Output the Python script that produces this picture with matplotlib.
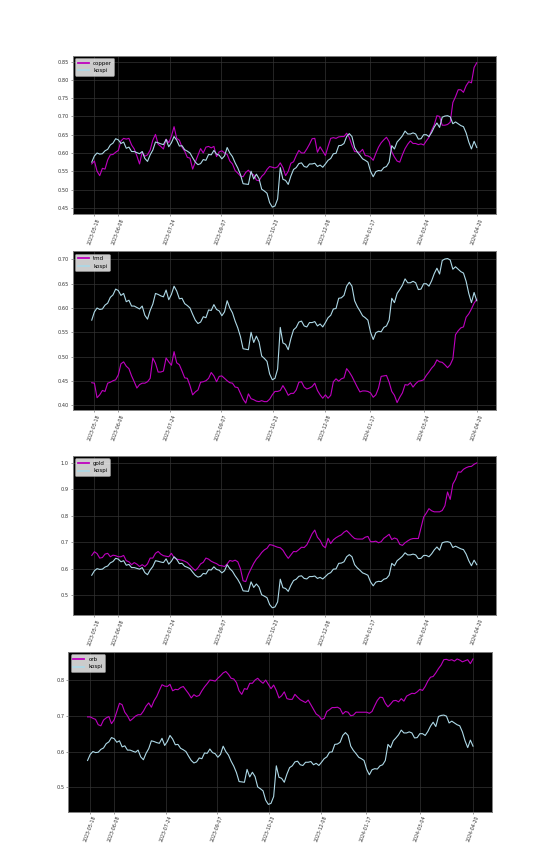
import matplotlib
matplotlib.use('Agg')
import matplotlib.pyplot as plt
import matplotlib.dates as mdates
import matplotlib.ticker as mticker
import pandas as pd

# ---------------- data ----------------
start_date = '2023-05-16'
end_date = '2024-04-20'
n_points = 146

tick_dates = ['2023-05-18', '2023-06-08', '2023-07-24', '2023-09-07', '2023-10-23',
              '2023-12-08', '2024-01-17', '2024-03-04', '2024-04-20']

kospi = [0.575, 0.592, 0.600, 0.597, 0.598, 0.606, 0.610, 0.622, 0.627, 0.639,
         0.636, 0.626, 0.630, 0.613, 0.616, 0.604, 0.604, 0.601, 0.598, 0.604,
         0.585, 0.577, 0.595, 0.608, 0.630, 0.628, 0.625, 0.623, 0.637, 0.617,
         0.628, 0.645, 0.635, 0.619, 0.620, 0.609, 0.605, 0.600, 0.587, 0.575,
         0.568, 0.571, 0.582, 0.580, 0.596, 0.595, 0.607, 0.597, 0.594, 0.584,
         0.592, 0.615, 0.600, 0.590, 0.573, 0.559, 0.541, 0.516, 0.515, 0.514,
         0.550, 0.529, 0.542, 0.530, 0.501, 0.496, 0.490, 0.464, 0.452, 0.455,
         0.474, 0.560, 0.528, 0.525, 0.514, 0.537, 0.555, 0.560, 0.571, 0.573,
         0.563, 0.561, 0.570, 0.570, 0.572, 0.563, 0.567, 0.561, 0.570, 0.580,
         0.585, 0.598, 0.599, 0.620, 0.621, 0.626, 0.645, 0.653, 0.645, 0.615,
         0.603, 0.594, 0.584, 0.580, 0.575, 0.550, 0.535, 0.549, 0.552, 0.551,
         0.560, 0.563, 0.575, 0.620, 0.611, 0.630, 0.638, 0.647, 0.660, 0.652,
         0.652, 0.655, 0.652, 0.638, 0.639, 0.650, 0.650, 0.645, 0.656, 0.671,
         0.682, 0.670, 0.698, 0.701, 0.702, 0.699, 0.680, 0.685, 0.680, 0.675,
         0.672, 0.655, 0.630, 0.611, 0.632, 0.615]

copper = [0.570, 0.578, 0.550, 0.538, 0.558, 0.556, 0.581, 0.595, 0.596, 0.602,
          0.607, 0.633, 0.640, 0.638, 0.640, 0.622, 0.611, 0.592, 0.570, 0.603,
          0.591, 0.595, 0.608, 0.635, 0.651, 0.624, 0.618, 0.611, 0.638, 0.628,
          0.646, 0.672, 0.640, 0.635, 0.616, 0.605, 0.588, 0.586, 0.556, 0.575,
          0.594, 0.612, 0.600, 0.616, 0.618, 0.614, 0.618, 0.590, 0.603, 0.606,
          0.600, 0.596, 0.578, 0.570, 0.552, 0.545, 0.537, 0.535, 0.547, 0.553,
          0.544, 0.540, 0.526, 0.524, 0.536, 0.543, 0.555, 0.563, 0.561, 0.559,
          0.562, 0.573, 0.560, 0.538, 0.550, 0.572, 0.576, 0.593, 0.607, 0.600,
          0.600, 0.611, 0.624, 0.639, 0.640, 0.602, 0.617, 0.605, 0.593, 0.618,
          0.640, 0.642, 0.640, 0.644, 0.645, 0.645, 0.654, 0.642, 0.621, 0.604,
          0.603, 0.602, 0.610, 0.593, 0.592, 0.588, 0.580, 0.599, 0.616, 0.628,
          0.636, 0.643, 0.631, 0.603, 0.589, 0.578, 0.575, 0.595, 0.612, 0.624,
          0.633, 0.626, 0.626, 0.623, 0.625, 0.622, 0.633, 0.643, 0.662, 0.677,
          0.702, 0.700, 0.676, 0.676, 0.678, 0.684, 0.738, 0.754, 0.773, 0.773,
          0.766, 0.784, 0.795, 0.792, 0.834, 0.847]

tmd = [0.446, 0.445, 0.415, 0.421, 0.430, 0.428, 0.445, 0.447, 0.450, 0.452,
       0.462, 0.485, 0.489, 0.480, 0.475, 0.460, 0.448, 0.435, 0.442, 0.445,
       0.445, 0.448, 0.455, 0.497, 0.486, 0.468, 0.468, 0.470, 0.497, 0.489,
       0.482, 0.510, 0.487, 0.483, 0.470, 0.456, 0.455, 0.440, 0.421, 0.427,
       0.431, 0.447, 0.448, 0.450, 0.455, 0.467, 0.460, 0.448, 0.459, 0.460,
       0.455, 0.450, 0.446, 0.445, 0.437, 0.436, 0.424, 0.412, 0.404, 0.423,
       0.413, 0.411, 0.408, 0.407, 0.409, 0.407, 0.407, 0.412, 0.421, 0.428,
       0.428, 0.430, 0.440, 0.431, 0.420, 0.424, 0.424, 0.431, 0.447, 0.448,
       0.437, 0.433, 0.435, 0.438, 0.445, 0.430, 0.421, 0.414, 0.421, 0.414,
       0.420, 0.448, 0.454, 0.449, 0.454, 0.456, 0.475, 0.468, 0.459, 0.448,
       0.437, 0.427, 0.429, 0.429, 0.428, 0.425, 0.416, 0.421, 0.435, 0.459,
       0.460, 0.461, 0.447, 0.428, 0.420, 0.405, 0.416, 0.425, 0.442, 0.441,
       0.446, 0.437, 0.444, 0.449, 0.450, 0.452, 0.461, 0.468, 0.476, 0.482,
       0.493, 0.489, 0.488, 0.483, 0.477, 0.483, 0.495, 0.545, 0.553, 0.559,
       0.561, 0.581, 0.588, 0.598, 0.610, 0.618]

gold = [0.650, 0.664, 0.657, 0.640, 0.642, 0.655, 0.658, 0.645, 0.651, 0.649,
        0.645, 0.645, 0.650, 0.630, 0.626, 0.615, 0.623, 0.617, 0.608, 0.615,
        0.608, 0.618, 0.640, 0.640, 0.658, 0.665, 0.655, 0.649, 0.647, 0.645,
        0.658, 0.642, 0.636, 0.634, 0.632, 0.628, 0.623, 0.612, 0.602, 0.593,
        0.603, 0.618, 0.624, 0.640, 0.636, 0.628, 0.623, 0.619, 0.612, 0.611,
        0.608, 0.618, 0.631, 0.628, 0.632, 0.626, 0.600, 0.554, 0.551, 0.579,
        0.600, 0.620, 0.636, 0.647, 0.661, 0.671, 0.677, 0.691, 0.689, 0.685,
        0.681, 0.679, 0.670, 0.653, 0.639, 0.652, 0.665, 0.664, 0.672, 0.681,
        0.680, 0.690, 0.710, 0.732, 0.746, 0.719, 0.707, 0.687, 0.679, 0.715,
        0.695, 0.709, 0.717, 0.723, 0.728, 0.738, 0.744, 0.734, 0.723, 0.714,
        0.712, 0.712, 0.712, 0.719, 0.722, 0.702, 0.702, 0.704, 0.698, 0.702,
        0.715, 0.722, 0.730, 0.710, 0.716, 0.712, 0.692, 0.688, 0.698, 0.705,
        0.711, 0.714, 0.714, 0.714, 0.755, 0.795, 0.810, 0.827, 0.819, 0.815,
        0.815, 0.815, 0.820, 0.838, 0.890, 0.862, 0.920, 0.938, 0.966, 0.965,
        0.976, 0.982, 0.986, 0.987, 0.995, 1.000]

orb = [0.697, 0.697, 0.693, 0.690, 0.675, 0.672, 0.688, 0.694, 0.698, 0.678,
       0.689, 0.712, 0.735, 0.731, 0.710, 0.700, 0.686, 0.692, 0.699, 0.703,
       0.703, 0.713, 0.727, 0.736, 0.724, 0.742, 0.754, 0.771, 0.787, 0.783,
       0.782, 0.788, 0.770, 0.774, 0.773, 0.779, 0.782, 0.772, 0.762, 0.750,
       0.759, 0.754, 0.757, 0.770, 0.781, 0.790, 0.800, 0.799, 0.797, 0.805,
       0.812, 0.820, 0.824, 0.816, 0.805, 0.803, 0.793, 0.770, 0.760, 0.776,
       0.774, 0.791, 0.791, 0.800, 0.805, 0.797, 0.791, 0.800, 0.788, 0.776,
       0.786, 0.771, 0.750, 0.756, 0.767, 0.748, 0.746, 0.746, 0.760, 0.752,
       0.745, 0.741, 0.737, 0.744, 0.731, 0.718, 0.705, 0.700, 0.690, 0.693,
       0.712, 0.717, 0.723, 0.723, 0.724, 0.720, 0.705, 0.712, 0.710, 0.700,
       0.702, 0.710, 0.710, 0.710, 0.710, 0.710, 0.707, 0.712, 0.728, 0.743,
       0.752, 0.751, 0.735, 0.725, 0.733, 0.742, 0.743, 0.739, 0.748, 0.741,
       0.755, 0.759, 0.763, 0.762, 0.767, 0.774, 0.771, 0.782, 0.797, 0.808,
       0.810, 0.820, 0.832, 0.842, 0.857, 0.858, 0.855, 0.857, 0.853, 0.859,
       0.856, 0.851, 0.854, 0.857, 0.846, 0.859]

pairs = [('copper', copper), ('tmd', tmd), ('gold', gold), ('orb', orb)]
y_steps = [0.05, 0.05, 0.1, 0.1]

# ---------------- layout ----------------
W, H = 551, 843
# (left, top, right, bottom) in pixels
boxes = [(72.5, 55.5, 496, 214.3),
         (72.5, 251.3, 496, 410.3),
         (72.5, 455.7, 496, 615.0),
         (68.3, 651.7, 492.3, 811.7)]

dates = pd.date_range(start_date, end_date, periods=n_points)
ticks = pd.to_datetime(tick_dates)

fig = plt.figure(figsize=(W / 100, H / 100), dpi=100)
fig.patch.set_facecolor('white')

for (name, vals), (l, t, r, b), step in zip(pairs, boxes, y_steps):
    ax = fig.add_axes([l / W, 1 - b / H, (r - l) / W, (b - t) / H])
    ax.set_facecolor('black')
    ax.plot(dates, vals, color='m', lw=0.8, label=name)
    ax.plot(dates, kospi, color='lightblue', lw=0.8, label='kospi')
    ax.set_xticks(ticks)
    ax.xaxis.set_major_formatter(mdates.DateFormatter('%Y-%m-%d'))
    ax.yaxis.set_major_locator(mticker.MultipleLocator(step))
    ax.tick_params(axis='x', labelsize=3.4, rotation=70, length=1.5, width=0.4,
                   pad=0.8, color='#555555', labelcolor='#333333')
    ax.tick_params(axis='y', labelsize=3.6, length=1.5, width=0.4, pad=1.2,
                   color='#555555', labelcolor='#333333')
    ax.grid(True, color='#333333', lw=0.5)
    for s in ax.spines.values():
        s.set_color('#808080')
        s.set_linewidth(0.7)
    leg = ax.legend(loc='upper left', fontsize=4, framealpha=0.8,
                    facecolor='white', edgecolor='#999999')
    leg.get_frame().set_linewidth(0.5)
    for h in leg.legend_handles:
        h.set_linewidth(1.3)

fig.savefig('out.png', dpi=100)
